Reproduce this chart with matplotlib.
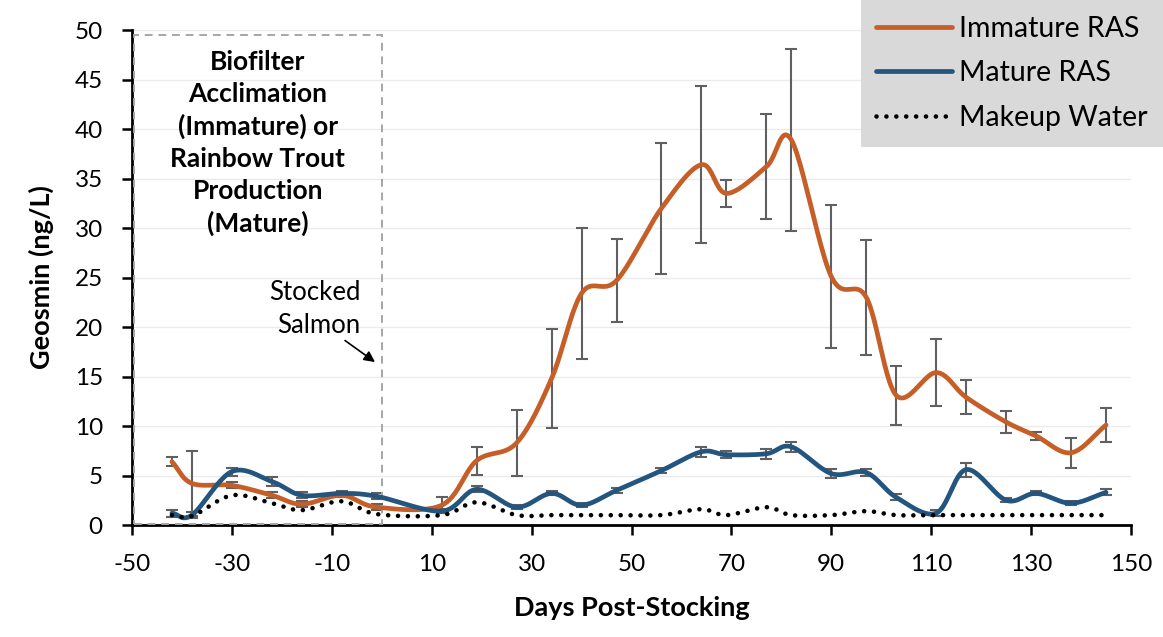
import numpy as np
import matplotlib
matplotlib.use("Agg")
import matplotlib.pyplot as plt
from matplotlib.patches import Rectangle

plt.rcParams['font.family'] = ['Lato', 'DejaVu Sans']
plt.rcParams['axes.unicode_minus'] = False

# sampling days
days = [-42, -38, -30, -22, -16, -8, -1, 12, 19, 27, 34, 40, 47, 56, 64, 69,
        77, 82, 90, 97, 103, 111, 117, 125, 131, 138, 145]

immature = [6.4, 4.2, 4.0, 3.0, 2.1, 3.0, 1.8, 2.0, 6.5, 8.3, 14.8, 23.4, 24.7,
            32.0, 36.4, 33.5, 36.2, 38.9, 25.1, 23.0, 13.1, 15.4, 12.9, 10.4,
            9.0, 7.3, 10.1]
immature_err = [0.45, 3.3, 0.3, 0.3, 0.3, 0.2, 0.3, 0.8, 1.4, 3.3, 5.0, 6.6, 4.2,
                6.6, 7.9, 1.4, 5.3, 9.2, 7.2, 5.8, 3.0, 3.4, 1.7, 1.1,
                0.4, 1.5, 1.7]

mature = [1.2, 1.0, 5.4, 4.4, 3.0, 3.2, 2.9, 1.4, 3.6, 1.8, 3.2, 2.0, 3.5,
          5.5, 7.4, 7.1, 7.2, 7.9, 5.2, 5.3, 2.8, 1.2, 5.6, 2.5,
          3.2, 2.2, 3.3]
mature_err = [0.35, 0.3, 0.4, 0.45, 0.3, 0.2, 0.3, 0.2, 0.3, 0.2, 0.2, 0.2, 0.25,
              0.25, 0.5, 0.35, 0.5, 0.5, 0.45, 0.35, 0.3, 0.3, 0.7, 0.2,
              0.2, 0.2, 0.3]

makeup = [1.0, 0.9, 3.0, 2.2, 1.5, 2.4, 1.1, 1.0, 2.3, 1.0, 1.0, 1.0, 1.0,
          1.0, 1.6, 1.0, 1.8, 1.0, 1.0, 1.4, 1.0, 1.0, 1.0, 1.0,
          1.0, 1.0, 1.0]

box_text = "Biofilter\nAcclimation\n(Immature) or\nRainbow Trout\nProduction\n(Mature)"

ORANGE = "#c55f27"
BLUE = "#23557f"
ERR = "#606060"


def smooth(x, y, n=24):
    # Catmull-Rom spline through the points, like Excel's smoothed line
    x = np.asarray(x, float)
    y = np.asarray(y, float)
    sx, sy = 1 / 200.0, 1 / 50.0
    P = np.column_stack([x * sx, y * sy])
    P = np.vstack([2 * P[0] - P[1], P, 2 * P[-1] - P[-2]])
    out = []
    t = np.linspace(0, 1, n, endpoint=False)[:, None]
    for i in range(1, len(P) - 2):
        p0, p1, p2, p3 = P[i - 1], P[i], P[i + 1], P[i + 2]
        seg = 0.5 * ((2 * p1) + (-p0 + p2) * t + (2 * p0 - 5 * p1 + 4 * p2 - p3) * t ** 2
                     + (-p0 + 3 * p1 - 3 * p2 + p3) * t ** 3)
        out.append(seg)
    out.append(P[-2][None, :])
    out = np.vstack(out)
    return out[:, 0] / sx, out[:, 1] / sy


fig = plt.figure(figsize=(11.63, 6.37), dpi=100)
ax = fig.add_axes([0.1135, 0.1758, 0.859, 0.777])

ax.errorbar(days, immature, yerr=immature_err, fmt="none", ecolor=ERR,
            elinewidth=1.5, capsize=4.5, capthick=1.5, zorder=2)
ax.errorbar(days, mature, yerr=mature_err, fmt="none", ecolor=ERR,
            elinewidth=1.5, capsize=4.5, capthick=1.5, zorder=2)

xs, ys = smooth(days, immature)
ax.plot(xs, ys, color=ORANGE, lw=3.4, solid_capstyle="round", label="Immature RAS", zorder=4)
xs, ys = smooth(days, mature)
ax.plot(xs, ys, color=BLUE, lw=3.4, solid_capstyle="round", label="Mature RAS", zorder=4)
xs, ys = smooth(days, makeup)
ax.plot(xs, ys, color="black", lw=3.3, linestyle=(0, (0.01, 2.15)),
        dash_capstyle="round", label="Makeup Water", zorder=5)

ax.add_patch(Rectangle((-49.6, 0.15), 49.6, 49.35, fill=False, ec="#a6a6a6",
                       lw=1.4, ls=(0, (4, 3)), zorder=3))
ax.text(-24.8, 48.0, box_text, ha="center", va="top", fontsize=19,
        fontweight="bold", linespacing=1.39)
ax.text(-4.3, 18.9, "Stocked\nSalmon", ha="right", va="bottom", fontsize=18.5,
        linespacing=1.38)
ax.annotate("", xy=(-0.9, 16.3), xytext=(-7.8, 18.8),
            arrowprops=dict(arrowstyle="-|>", color="black", lw=1.2,
                            mutation_scale=16))

ax.set_xlim(-50, 150)
ax.set_ylim(0, 50)
ax.set_xticks(np.arange(-50, 151, 20))
ax.set_yticks(np.arange(0, 51, 5))
ax.tick_params(labelsize=17.5, length=7, width=1.8, direction="out")
ax.tick_params(axis="x", pad=14)
ax.tick_params(axis="y", pad=14)
ax.grid(axis="y", color="#ebebeb", lw=1)
ax.set_axisbelow(True)
for s in ["top", "right"]:
    ax.spines[s].set_visible(False)
for s in ["left", "bottom"]:
    ax.spines[s].set_linewidth(2)

ax.set_xlabel("Days Post-Stocking", fontsize=19.5, fontweight="bold", labelpad=15)
ax.set_ylabel("Geosmin (ng/L)", fontsize=19.5, fontweight="bold", labelpad=15)

leg = ax.legend(loc="upper right", bbox_to_anchor=(1.0, 1.0), bbox_transform=fig.transFigure,
                fontsize=20.5, frameon=True, fancybox=False, handlelength=2.65,
                handletextpad=0.25, borderpad=0.55, borderaxespad=0,
                labelspacing=0.66)
leg.get_frame().set_facecolor("#d9d9d9")
leg.get_frame().set_edgecolor("none")
leg.get_frame().set_alpha(1)

fig.savefig("out.png", dpi=100)
